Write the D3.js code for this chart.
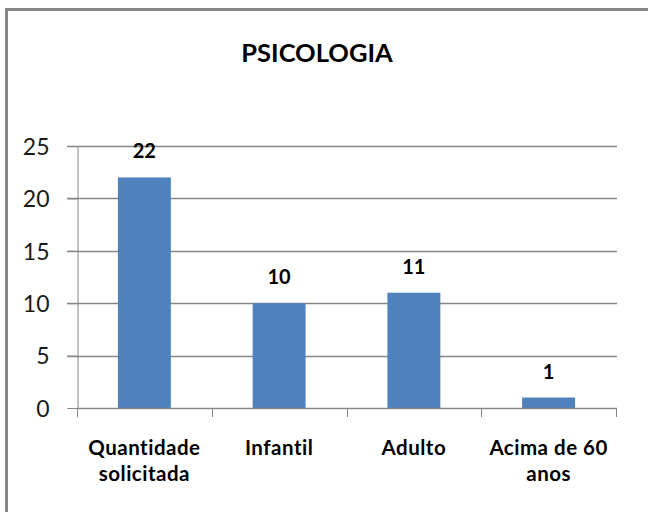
<!DOCTYPE html>
<html><head><meta charset="utf-8">
<script src="https://cdn.jsdelivr.net/npm/d3@7"></script>
<style>body{margin:0;background:#fff}</style>
</head><body>
<svg id="c" width="648" height="512"></svg>
<script>
const title = "PSICOLOGIA";
const categories = [["Quantidade","solicitada"],["Infantil"],["Adulto"],["Acima de 60","anos"]];
const values = [22, 10, 11, 1];
const yTicks = [0, 5, 10, 15, 20, 25];

const svg = d3.select("#c");
const font = "Lato, 'Open Sans', sans-serif";
const L = 77, R = 616, T = 146, B = 408;

// chart frame (partially visible)
svg.append("path").attr("d","M6.5,512 V9.5 H648").attr("fill","none")
  .attr("stroke","#868686").attr("stroke-width",3);

const keys = categories.map((c,i)=>i);
const x = d3.scaleBand().domain(keys).range([L,R]).paddingInner(0.607).paddingOuter(0.3035);
const y = d3.scaleLinear().domain([0,25]).range([B,T]);

// gridlines
svg.append("g").selectAll("line").data(yTicks.filter(d=>d>0)).join("line")
  .attr("x1",67).attr("x2",R+1).attr("y1",d=>Math.round(y(d))+0.5).attr("y2",d=>Math.round(y(d))+0.5)
  .attr("stroke","#868686").attr("stroke-width",1.3);

// y axis
const ya = svg.append("g").attr("transform",`translate(${L+0.5},0)`)
  .call(d3.axisLeft(y).tickValues(yTicks).tickSize(10).tickPadding(18).tickFormat(d3.format("d")));
ya.select(".domain").attr("stroke","#868686");
ya.selectAll(".tick line").attr("stroke","#868686");
ya.selectAll(".tick text").attr("font-family",font).attr("font-size",23).attr("fill","#1a1a1a").attr("dy","0.36em");

// bars
svg.append("g").selectAll("rect").data(values).join("rect")
  .attr("x",(d,i)=>x(i)).attr("width",x.bandwidth())
  .attr("y",d=>y(d)).attr("height",d=>y(0)-y(d)).attr("fill","#4F81BD");

// x axis baseline and category ticks
const step = x.step();
const bounds = d3.range(keys.length+1).map(i=>L + i*step);
svg.append("line").attr("x1",L).attr("x2",R+1).attr("y1",B+0.5).attr("y2",B+0.5)
  .attr("stroke","#868686").attr("stroke-width",1.3);
svg.append("g").selectAll("line").data(bounds).join("line")
  .attr("x1",d=>Math.round(d)+0.5).attr("x2",d=>Math.round(d)+0.5).attr("y1",B).attr("y2",B+9)
  .attr("stroke","#868686");

// category labels
const cl = svg.append("g").selectAll("text").data(categories).join("text")
  .attr("text-anchor","middle").attr("font-family",font).attr("font-weight","bold")
  .attr("font-size",20.5).attr("letter-spacing","0.5px").attr("fill","#000");
cl.each(function(lines,i){
  const t = d3.select(this);
  lines.forEach((ln,j)=>{
    t.append("tspan").attr("x",x(i)+x.bandwidth()/2).attr("y",455 + j*25.5).text(ln);
  });
});

// value labels
svg.append("g").selectAll("text").data(values).join("text")
  .attr("x",(d,i)=>x(i)+x.bandwidth()/2).attr("y",d=>y(d)-19)
  .attr("text-anchor","middle").attr("font-family",font).attr("font-weight","bold")
  .attr("font-size",20).attr("fill","#000").text(d=>d);

// title
svg.append("text").attr("x",317).attr("y",62).attr("text-anchor","middle")
  .attr("font-family",font).attr("font-weight","bold").attr("font-size",25.5).attr("fill","#000").text(title);
</script>
</body></html>
